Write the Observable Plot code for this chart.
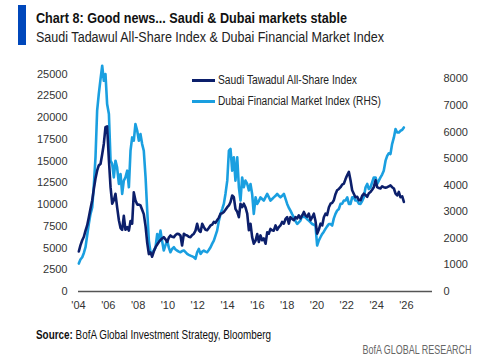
<!DOCTYPE html>
<html><head><meta charset="utf-8">
<script src="https://cdn.jsdelivr.net/npm/d3@7"></script>
<script src="https://cdn.jsdelivr.net/npm/@observablehq/plot@0.6"></script>
<style>
body{margin:0;background:#fff;font-family:"Liberation Sans",Arial,sans-serif;}
#wrap{position:relative;width:500px;height:356px;overflow:hidden;}
#bar{position:absolute;left:18px;top:5px;width:8px;height:40px;background:#0047bb;}
.fit{position:absolute;white-space:nowrap;line-height:1;}
#title{left:36px;top:10px;font-size:15.5px;font-weight:bold;color:#111;transform-origin:left center;}
#sub{left:36px;top:28.5px;font-size:15.5px;color:#222;transform-origin:left center;}
#chart{position:absolute;left:0;top:55px;}
.leg{left:192px;font-size:12.5px;color:#222;transform-origin:left center;}
.sw{position:absolute;left:192px;width:23px;height:3px;}
#src{left:36px;top:327.5px;font-size:13px;color:#111;transform-origin:left center;}
#brand{right:29px;top:342.5px;font-size:13px;color:#666;transform-origin:right center;}
</style></head>
<body><div id="wrap">
<div id="bar"></div>
<div id="title" class="fit" data-w="311">Chart 8: Good news... Saudi &amp; Dubai markets stable</div>
<div id="sub" class="fit" data-w="348">Saudi Tadawul All-Share Index &amp; Dubai Financial Market Index</div>
<div id="chart"></div>
<div class="sw" style="top:79px;background:#0c1f6b"></div>
<div class="sw" style="top:100px;background:#1a9fe0"></div>
<div class="leg fit" style="left:218px;top:73.5px" data-w="139">Saudi Tawadul All-Share Index</div>
<div class="leg fit" style="left:218px;top:94.5px" data-w="163">Dubai Financial Market Index (RHS)</div>
<div id="src" class="fit" data-w="235"><b>Source:</b> BofA Global Investment Strategy, Bloomberg</div>
<div id="brand" class="fit" data-w="109">BofA GLOBAL RESEARCH</div>
</div>
<script>
const years = [2004.02,2004.13,2004.25,2004.36,2004.47,2004.58,2004.69,2004.80,2004.92,2005.03,2005.14,2005.25,2005.36,2005.48,2005.59,2005.70,2005.81,2005.92,2006.04,2006.15,2006.26,2006.37,2006.48,2006.59,2006.71,2006.82,2006.93,2007.04,2007.15,2007.27,2007.38,2007.49,2007.60,2007.71,2007.82,2007.94,2008.05,2008.16,2008.27,2008.38,2008.50,2008.61,2008.72,2008.83,2008.94,2009.05,2009.17,2009.28,2009.39,2009.50,2009.61,2009.72,2009.84,2009.95,2010.06,2010.17,2010.28,2010.40,2010.51,2010.62,2010.73,2010.84,2010.95,2011.07,2011.18,2011.29,2011.40,2011.51,2011.63,2011.74,2011.85,2011.96,2012.07,2012.19,2012.30,2012.41,2012.52,2012.63,2012.74,2012.86,2012.97,2013.08,2013.19,2013.30,2013.42,2013.53,2013.64,2013.75,2013.86,2013.98,2014.09,2014.20,2014.31,2014.42,2014.53,2014.65,2014.76,2014.87,2014.98,2015.09,2015.20,2015.32,2015.43,2015.54,2015.65,2015.76,2015.88,2015.99,2016.10,2016.21,2016.32,2016.43,2016.55,2016.66,2016.77,2016.88,2016.99,2017.10,2017.22,2017.33,2017.44,2017.55,2017.66,2017.78,2017.89,2018.00,2018.11,2018.22,2018.34,2018.45,2018.56,2018.67,2018.78,2018.89,2019.01,2019.12,2019.23,2019.34,2019.45,2019.57,2019.68,2019.79,2019.90,2020.01,2020.12,2020.24,2020.35,2020.46,2020.57,2020.68,2020.80,2020.91,2021.02,2021.13,2021.24,2021.35,2021.47,2021.58,2021.69,2021.80,2021.91,2022.03,2022.14,2022.25,2022.36,2022.47,2022.58,2022.70,2022.81,2022.92,2023.03,2023.14,2023.26,2023.37,2023.48,2023.59,2023.70,2023.81,2023.93,2024.04,2024.15,2024.26,2024.37,2024.48,2024.60,2024.71,2024.82,2024.93,2025.04,2025.16,2025.27,2025.38,2025.49,2025.60,2025.72,2025.83];

const saudi = [4600,5300,5900,6300,7000,7600,8500,9500,10500,11800,13000,13900,14500,14700,15800,17000,18900,19000,15100,12000,10100,10500,11250,9700,8200,7300,7100,8700,7100,7400,7000,8100,7800,11400,10500,10000,10000,9900,9400,8900,7500,5600,4300,4500,4000,4600,5100,5400,5700,5900,6100,6250,6000,5700,6200,6450,6300,6250,6500,6650,6600,6450,5300,6650,6500,6450,6300,6250,6500,6650,7000,7800,7050,6850,7800,7400,7100,7050,7300,7600,7700,8000,7900,8200,8500,8950,9000,9150,9400,9700,9900,10300,11050,10850,9500,9150,8550,10100,9700,10100,9700,8950,7050,7800,6250,5500,5850,6600,5700,6450,5900,6100,5500,6800,6650,7200,7050,7000,7600,7100,7400,7600,8000,7800,8350,8550,7800,8550,8350,8200,8550,8400,8750,8400,8750,9150,8750,8600,8950,8200,8550,8950,8100,6650,7100,7800,7600,8550,8950,8800,9700,10100,10200,10500,11200,11650,11800,12000,12300,12400,12900,13400,13750,12800,11650,11250,10850,10900,10500,10500,11000,11250,11100,10900,11300,11450,11700,12000,12800,12000,11900,11850,12100,12000,11950,12000,12100,12200,12000,11850,11250,11050,11450,10850,10950,10300];

const dubai = [1050,1200,1290,1450,1665,2100,2540,2900,3165,4000,5045,6800,7425,8000,8490,7925,8180,7050,6675,4920,4800,4290,4920,4670,4045,4420,3670,4170,4290,4545,3920,5295,5795,5670,6300,6045,5670,5920,5545,5295,4290,3040,1915,1475,1415,1550,1665,2165,1915,2290,1900,1540,1750,1915,1650,1475,1600,1665,1580,1540,1500,1475,1520,1540,1480,1415,1380,1350,1320,1290,1230,1475,1600,1415,1500,1540,1500,1475,1560,1665,1800,1915,2100,2290,2665,2920,3100,3295,3670,4170,5295,5360,4545,5045,4170,5045,3920,3420,4290,3920,4170,4045,3800,4045,3670,2920,3540,3295,3400,3540,3480,3420,3550,3670,3550,3420,3480,3540,3600,3670,3600,3540,3600,3670,3480,3295,3150,3040,2900,2790,2650,2540,2600,2665,2855,2800,2790,2720,2665,2600,2540,2510,2480,1730,1915,2050,2165,2250,2355,2450,2540,2540,2480,2750,2920,3040,3105,3295,3300,3420,3420,3540,3295,3295,3540,3540,3420,3420,3300,3295,3400,3540,3920,4045,3855,3920,4100,4290,4290,4045,4170,4290,4400,4545,4920,5100,5200,5170,5545,5795,6110,5980,5980,6045,6080,6170];

const xTicks = [2004,2006,2008,2010,2012,2014,2016,2018,2020,2022,2024,2026];
const leftTicks = [0,2500,5000,7500,10000,12500,15000,17500,20000,22500,25000];
const rightTicks = [0,1000,2000,3000,4000,5000,6000,7000,8000];
const leftMax = 26000, rightMax = 8500;
const k = leftMax / rightMax;

const saudiData = years.map((t,i)=>({t, v: saudi[i]}));
const dubaiData = years.map((t,i)=>({t, v: dubai[i]*k}));

const plot = Plot.plot({
  width: 500, height: 260,
  marginLeft: 78, marginRight: 68, marginTop: 10, marginBottom: 24,
  style: {fontFamily: '"Liberation Sans", Arial, sans-serif', fontSize: "11px", color: "#333", background: "transparent"},
  x: {type: "linear", domain: [2004, 2027.75]},
  y: {domain: [0, leftMax]},
  marks: [
    Plot.axisX({ticks: xTicks, tickFormat: d => "'" + String(d).slice(2), tickSize: 0, tickPadding: 10, label: null}),
    Plot.axisY({anchor: "left", ticks: leftTicks, tickFormat: d => String(d), tickSize: 0, tickPadding: 11, label: null}),
    Plot.axisY({anchor: "right", ticks: rightTicks.map(v => v*k), tickFormat: d => String(Math.round(d/k)), tickSize: 0, tickPadding: 11, label: null}),
    Plot.ruleY([0], {stroke: "#555", strokeWidth: 1.5}),
    Plot.line(dubaiData, {x: "t", y: "v", stroke: "#1a9fe0", strokeWidth: 2.6}),
    Plot.line(saudiData, {x: "t", y: "v", stroke: "#0c1f6b", strokeWidth: 2.6})
  ]
});
document.getElementById("chart").appendChild(plot);

document.querySelectorAll(".fit").forEach(el => {
  const w = el.getBoundingClientRect().width;
  const target = +el.dataset.w;
  if (w > 0) el.style.transform = `scaleX(${target / w})`;
});
</script>
</body></html>
